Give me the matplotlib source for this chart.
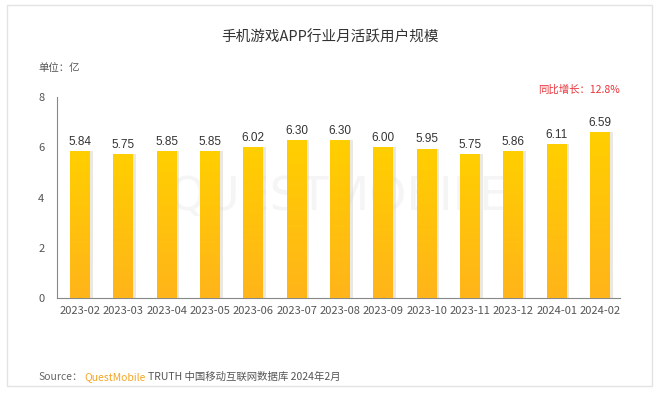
import matplotlib
matplotlib.use("Agg")
import matplotlib.pyplot as plt
import numpy as np
from matplotlib.patches import Rectangle
from matplotlib.colors import LinearSegmentedColormap

plt.rcParams['font.family'] = ['Noto Sans CJK SC', 'DejaVu Sans']

months = ["2023-02", "2023-03", "2023-04", "2023-05", "2023-06", "2023-07", "2023-08",
          "2023-09", "2023-10", "2023-11", "2023-12", "2024-01", "2024-02"]
mau = [5.84, 5.75, 5.85, 5.85, 6.02, 6.30, 6.30, 6.00, 5.95, 5.75, 5.86, 6.11, 6.59]
yticks = [0, 2, 4, 6, 8]
title = "手机游戏APP行业月活跃用户规模"
unit = "单位：亿"
yoy = "同比增长：12.8%"

fig = plt.figure(figsize=(6.6, 3.96), dpi=100)
fig.patch.set_facecolor('white')
fig.add_artist(Rectangle((7/660, 1-386/396), 645/660, 381/396, transform=fig.transFigure,
                         fill=False, edgecolor='#e3e3e3', lw=1.0))

ax = fig.add_axes([57/660, 1-298/396, 563/660, 201/396])
x = np.arange(len(months))

# faint watermark behind bars
ax.text(0.5, 0.5, "QUESTMOBILE", transform=ax.transAxes, ha='center', va='center',
        fontsize=34, color='#f5f5f5', family='DejaVu Sans', zorder=0.5)

cmap = LinearSegmentedColormap.from_list('g', ['#ffb41a', '#ffcf00'])
grad = np.linspace(0, 1, 256).reshape(-1, 1)
bars = ax.bar(x, mau, width=0.46, color='none', edgecolor='none', zorder=3)
shadow = ax.bar(x + 0.06, mau, width=0.46, color='#d9d2c4', alpha=0.5, edgecolor='none', zorder=2)
for b in bars:
    im = ax.imshow(grad, extent=[b.get_x(), b.get_x() + b.get_width(), 0, b.get_height()],
                   origin='lower', cmap=cmap, aspect='auto', zorder=3)
    im.set_clip_path(b)
for xi, v in zip(x, mau):
    ax.text(xi, v + 0.12, f"{v:.2f}", ha='center', va='bottom', fontsize=8.5,
            color='#333333', family='Liberation Sans', zorder=4)

ax.set_xlim(-0.53, 12.46)
ax.set_ylim(0, 8)
ax.set_yticks(yticks)
ax.set_xticks(x)
ax.set_xticklabels(months, fontsize=8, color='#555555')
ax.tick_params(axis='y', length=0, labelsize=8, labelcolor='#555555', pad=9)
ax.tick_params(axis='x', length=0, pad=6)
for s in ['top', 'right']:
    ax.spines[s].set_visible(False)
ax.spines['left'].set_color('#888888')
ax.spines['bottom'].set_color('#888888')
ax.patch.set_alpha(0)

fig.text(0.5, 1-38/396, title, ha='center', va='center', fontsize=10.5, color='#333333')
fig.text(38/660, 1-68/396, unit, ha='left', va='center', fontsize=7.5, color='#555555')
fig.text(620/660, 1-90/396, yoy, ha='right', va='center', fontsize=7.5, color='#e8343a')
t1 = fig.text(38/660, 1-377/396, "Source：", ha='left', va='center', fontsize=7.5, color='#666666')
fig.canvas.draw()
r = fig.canvas.get_renderer()
bb = t1.get_window_extent(r)
t2 = fig.text(bb.x1/660 + 0.003, 1-377/396, "QuestMobile", ha='left', va='center', fontsize=7.5, color='#f5a623')
bb2 = t2.get_window_extent(r)
fig.text(bb2.x1/660 + 0.004, 1-377/396, "TRUTH 中国移动互联网数据库 2024年2月", ha='left', va='center',
         fontsize=7.5, color='#555555')

fig.savefig("out.png", dpi=100)
